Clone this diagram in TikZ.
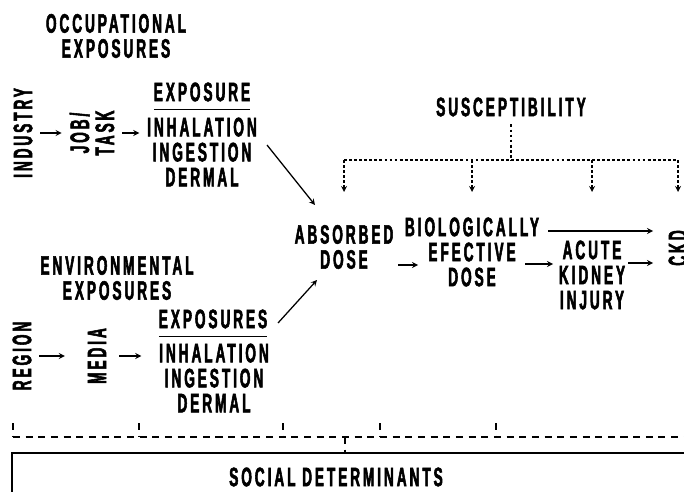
\documentclass[tikz,border=0pt]{standalone}
\usepackage{fontspec}
\newfontfamily\diagfont{Liberation Sans Bold}[FakeStretch=0.51,LetterSpace=11,FakeBold=2]
\usetikzlibrary{arrows,positioning}

\begin{document}
\begin{tikzpicture}[
    x=0.025cm, y=-0.025cm,
    lbl/.style={font=\diagfont\fontsize{19}{17.8}\selectfont, align=center, inner sep=0pt, outer sep=0.2cm},
    ttl/.style={lbl, outer sep=0pt},
    arrow/.style={->, >=stealth, line width=0.9pt},
    rule/.style={line width=0.9pt},
    dots/.style={line width=1pt, dash pattern=on 2pt off 1.6pt},
    dashes/.style={line width=0.8pt, dash pattern=on 5pt off 4pt},
    frame/.style={line width=1.2pt}
]
    \useasboundingbox (0,0) rectangle (684,492);
    \clip (0,0) rectangle (684,492);

    % occupational branch
    \node[lbl] (occ) at (116,36) {OCCUPATIONAL\\EXPOSURES};
    \node[lbl, rotate=90] (industry) at (23,133) {INDUSTRY};
    \node[lbl, rotate=90] (job) at (92,133) {JOB/\\TASK};
    \node[ttl] (expo1) at (202,92) {EXPOSURE};
    \node[lbl] (routes1) at (202,152) {INHALATION\\INGESTION\\DERMAL};

    % environmental branch
    \node[lbl] (env) at (117,278) {ENVIRONMENTAL\\EXPOSURES};
    \node[lbl, rotate=90] (region) at (22,356) {REGION};
    \node[lbl, rotate=90] (media) at (97,356) {MEDIA};
    \node[ttl] (expo2) at (213,319) {EXPOSURES};
    \node[lbl] (routes2) at (214,378) {INHALATION\\INGESTION\\DERMAL};

    % dose chain
    \node[lbl] (susc) at (511,107) {SUSCEPTIBILITY};
    \node[lbl] (absorbed) at (344,247) {ABSORBED\\DOSE};
    \node[lbl] (bio) at (472,252) {BIOLOGICALLY\\EFECTIVE\\DOSE};
    \node[lbl] (acute) at (592,275) {ACUTE\\KIDNEY\\INJURY};
    \node[lbl, rotate=90] (ckd) at (678,248) {CKD};

    \node[lbl] (social) at (336,477) {SOCIAL DETERMINANTS};

    \draw[rule] ([yshift=-0.2cm]expo1.south west) -- ([yshift=-0.2cm]expo1.south east);
    \draw[rule] ([yshift=-0.2cm]expo2.south west) -- ([yshift=-0.2cm]expo2.south east);

    \draw[arrow] (industry) -- (job);
    \draw[arrow] (job) -- (job -| routes1.west);
    \draw[arrow] ([shift={(65,-7)}]routes1.center) -- ([shift={(-29,-42)}]absorbed.center);

    \draw[arrow] (region) -- ([shift={(-15,0)}]media.north);
    \draw[arrow, shorten <=0.125cm, shorten >=0.25cm] (media) -- (media -| routes2.west);
    \draw[arrow] ([shift={(65,4)}]expo2.center) -- ([shift={(-27,33)}]absorbed.center);

    \draw[arrow] ([shift={(54,18)}]absorbed.center) -- ([shift={(-54,13)}]bio.center);
    \draw[arrow] ([shift={(76,-21)}]bio.center) -- ([shift={(-25,-17)}]ckd.center);
    \draw[arrow] ([shift={(53,12)}]bio.center) -- ([shift={(-39,-11)}]acute.center);
    \draw[arrow] ([shift={(36,-12)}]acute.center) -- ([shift={(-25,15)}]ckd.center);

    % susceptibility
    \coordinate (split) at (511,160);
    \coordinate (tip) at (511,192);
    \draw[dots] (susc) -- (split);
    \draw[dots] (split -| absorbed) -- (split -| ckd);
    \foreach \n in {absorbed,bio,acute,ckd}
        \draw[dots, arrow] (split -| \n) -- (tip -| \n);

    % social determinants
    \draw[dashes] (13,437) -- (684,437);
    \foreach \x in {13,139,283,380,496}
        \draw[dashes] (\x,423) -- (\x,437);
    \draw[dashes] (345,437) -- (345,453);
    \draw[frame] (12,520) |- (700,453);
\end{tikzpicture}
\end{document}
